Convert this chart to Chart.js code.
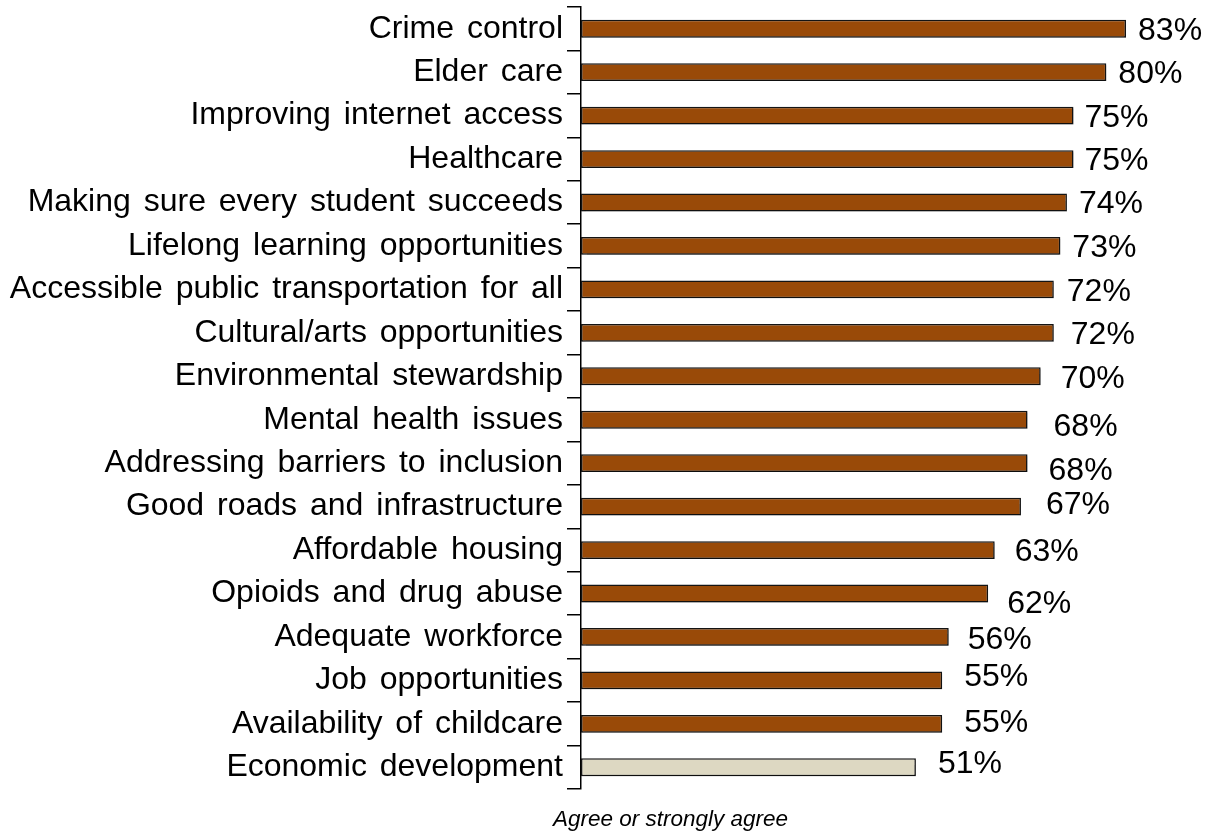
<!DOCTYPE html>
<html>
<head>
<meta charset="utf-8">
<script src="https://cdn.jsdelivr.net/npm/chart.js@4.4.1/dist/chart.umd.min.js"></script>
<style>
  html, body { margin: 0; padding: 0; background: #ffffff; }
  canvas { display: block; }
</style>
</head>
<body>
<canvas id="chart" width="1209" height="833"></canvas>
<script>
// Priorities, ranked by share who agree or strongly agree
const categories = [
  'Crime control',
  'Elder care',
  'Improving internet access',
  'Healthcare',
  'Making sure every student succeeds',
  'Lifelong learning opportunities',
  'Accessible public transportation for all',
  'Cultural/arts opportunities',
  'Environmental stewardship',
  'Mental health issues',
  'Addressing barriers to inclusion',
  'Good roads and infrastructure',
  'Affordable housing',
  'Opioids and drug abuse',
  'Adequate workforce',
  'Job opportunities',
  'Availability of childcare',
  'Economic development'
];
const agreePct = [83, 80, 75, 75, 74, 73, 72, 72, 70, 68, 68, 67, 63, 62, 56, 55, 55, 51];
const highlighted = 'Economic development';
const axisTitle = 'Agree or strongly agree';

// Style: colours and per-label nudges [gap after bar end, vertical shift]
const barBrown = '#994a08';
const barBeige = '#ddd8c2';
const labelNudge = [
  [12, 2], [12, 2], [11, 2.5], [11, 2], [12, 2], [12, 2], [13, 3], [17, 2.5], [20, 3],
  [26, 7], [21, 8], [25, -1.5], [20, 2], [19, 11], [19, 3], [22, -3.5], [22, -1], [22, -3]
];

const FONT = "'Liberation Sans', Arial, Helvetica, sans-serif";
Chart.defaults.font.family = FONT;
Chart.defaults.color = '#000';

// Wider gaps between words, as in the category names
const wordGaps = {
  id: 'wordGaps',
  beforeDraw(chart) {
    if ('wordSpacing' in chart.ctx) chart.ctx.wordSpacing = '4px';
  }
};

const barShadow = {
  id: 'barShadow',
  beforeDatasetsDraw(chart) {
    const ctx = chart.ctx;
    ctx.save();
    ctx.shadowColor = 'rgba(0,0,0,0.28)';
    ctx.shadowOffsetX = 1;
    ctx.shadowOffsetY = 2;
    ctx.shadowBlur = 1.5;
  },
  afterDatasetsDraw(chart) {
    chart.ctx.restore();
  }
};

const valueLabels = {
  id: 'valueLabels',
  afterDatasetsDraw(chart) {
    const ctx = chart.ctx;
    const meta = chart.getDatasetMeta(0);
    ctx.save();
    ctx.font = '32px ' + FONT;
    ctx.fillStyle = '#000';
    ctx.textAlign = 'left';
    ctx.textBaseline = 'middle';
    meta.data.forEach((bar, i) => {
      const [dx, dy] = labelNudge[i];
      ctx.fillText(agreePct[i] + '%', bar.x + dx, bar.y + dy);
    });
    ctx.restore();
  }
};

const axisCaption = {
  id: 'axisCaption',
  afterDraw(chart) {
    const ctx = chart.ctx;
    const area = chart.chartArea;
    ctx.save();
    if ('wordSpacing' in ctx) ctx.wordSpacing = '0px';
    ctx.font = 'italic 22.5px ' + FONT;
    ctx.fillStyle = '#000';
    ctx.textAlign = 'left';
    ctx.textBaseline = 'alphabetic';
    ctx.fillText(axisTitle, area.left - 28, area.bottom + 37);
    ctx.restore();
  }
};

new Chart(document.getElementById('chart'), {
  type: 'bar',
  data: {
    labels: categories,
    datasets: [{
      data: agreePct,
      backgroundColor: categories.map(c => c === highlighted ? barBeige : barBrown),
      borderColor: '#141414',
      borderWidth: 1.5,
      borderSkipped: false,
      barPercentage: 0.41,
      categoryPercentage: 1
    }]
  },
  options: {
    indexAxis: 'y',
    responsive: false,
    animation: false,
    layout: { padding: { left: 0, right: 37, top: 7, bottom: 44 } },
    plugins: {
      legend: { display: false },
      tooltip: { enabled: false }
    },
    scales: {
      x: { display: false, min: 0, max: 90 },
      y: {
        offset: true,
        grid: {
          display: true,
          offset: true,
          drawOnChartArea: false,
          drawTicks: true,
          tickLength: 14,
          color: '#000',
          lineWidth: 1.5
        },
        border: { display: true, color: '#000', width: 1.5 },
        ticks: {
          color: '#000',
          autoSkip: false,
          padding: 4,
          font: { family: FONT, size: 32 }
        },
        afterFit(scale) {
          scale.width = 581;
          scale.paddingTop = 0;
          scale.paddingBottom = 0;
        }
      }
    }
  },
  plugins: [wordGaps, barShadow, valueLabels, axisCaption]
});
</script>
</body>
</html>
